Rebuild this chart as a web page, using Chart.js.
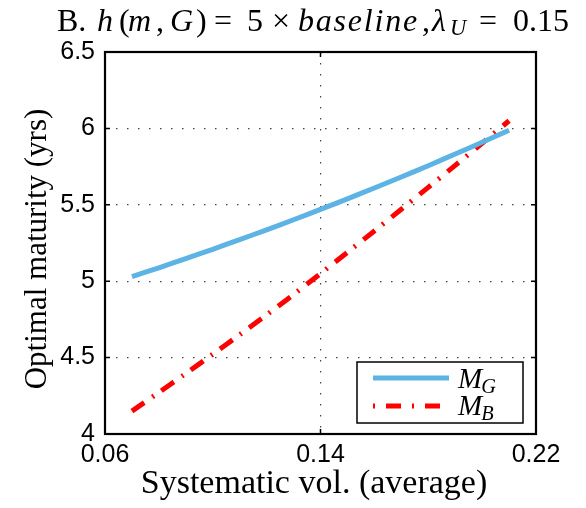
<!DOCTYPE html>
<html>
<head>
<meta charset="utf-8">
<script src="https://cdn.jsdelivr.net/npm/chart.js@4"></script>
<style>
  body { margin: 0; background: #fff; }
  #wrap { width: 586px; height: 508px; }
</style>
</head>
<body>
<div id="wrap"><canvas id="chart" width="586" height="508"></canvas></div>
<script>
const vol = [0.07, 0.08, 0.09, 0.10, 0.11, 0.12, 0.13, 0.14, 0.15, 0.16, 0.17, 0.18, 0.19, 0.20, 0.21];
const maturityG = [5.030, 5.088, 5.148, 5.209, 5.272, 5.336, 5.402, 5.470, 5.539, 5.610, 5.682, 5.756, 5.832, 5.909, 5.988];
const maturityB = [4.150, 4.272, 4.396, 4.522, 4.650, 4.780, 4.913, 5.050, 5.189, 5.329, 5.471, 5.614, 5.758, 5.903, 6.050];
const xTicks = [0.06, 0.14, 0.22];
const yTicks = [4, 4.5, 5, 5.5, 6, 6.5];

const blue = '#5cb3e4';
const red = '#ff0000';
const serif = '"Liberation Serif", "DejaVu Serif", serif';
const sans = '"Liberation Sans", Arial, sans-serif';

// pieces of the heading: text, style (r roman, i italic, s subscript), x position, width to fill
const heading = [
  ['B.', 'r', 57], ['h', 'i', 97], ['(', 'r', 119], ['m', 'i', 128], [',', 'r', 156],
  ['G', 'i', 170], [')', 'r', 196], ['=', 'r', 214], ['5', 'r', 247], ['×', 'r', 272],
  ['baseline', 'i', 298, 121], [',', 'r', 422], ['λ', 'i', 432], ['U', 's', 450],
  ['=', 'r', 479], ['0.15', 'r', 513]
];

function setFont(ctx, style, size) {
  const st = style === 'r' ? '' : 'italic ';
  ctx.font = st + (style === 's' ? size * 0.7 : size) + 'px ' + serif;
}

// symbol with italic subscript, e.g. M_G
function drawSub(ctx, main, sub, x, y, size) {
  setFont(ctx, 'i', size);
  ctx.fillText(main, x, y);
  const w = ctx.measureText(main).width;
  setFont(ctx, 's', size);
  ctx.fillText(sub, x + w - 1, y + size * 0.16);
}

const frame = {
  id: 'frame',
  afterDraw(chart) {
    const ctx = chart.ctx;
    const a = chart.chartArea;
    const xs = chart.scales.x, ys = chart.scales.y;
    ctx.save();
    // inward ticks on all four sides
    ctx.strokeStyle = '#000';
    ctx.lineWidth = 1.5;
    ctx.beginPath();
    for (const v of xTicks) {
      const px = xs.getPixelForValue(v);
      ctx.moveTo(px, a.bottom); ctx.lineTo(px, a.bottom - 5);
      ctx.moveTo(px, a.top); ctx.lineTo(px, a.top + 5);
    }
    for (const v of yTicks) {
      const py = ys.getPixelForValue(v);
      ctx.moveTo(a.left, py); ctx.lineTo(a.left + 5, py);
      ctx.moveTo(a.right, py); ctx.lineTo(a.right - 5, py);
    }
    ctx.stroke();
    // box
    ctx.lineWidth = 2.2;
    ctx.strokeRect(a.left, a.top, a.right - a.left, a.bottom - a.top);

    // legend
    const lx = 357, ly = 362, lw = 166, lh = 61;
    ctx.fillStyle = '#fff';
    ctx.fillRect(lx, ly, lw, lh);
    ctx.lineWidth = 1.5;
    ctx.strokeRect(lx, ly, lw, lh);
    ctx.lineWidth = 5;
    ctx.strokeStyle = blue;
    ctx.beginPath(); ctx.moveTo(373, 378); ctx.lineTo(449, 378); ctx.stroke();
    ctx.strokeStyle = red;
    ctx.setLineDash([2, 11, 15, 11]);
    ctx.beginPath(); ctx.moveTo(373, 406); ctx.lineTo(449, 406); ctx.stroke();
    ctx.setLineDash([]);

    ctx.fillStyle = '#000';
    ctx.textBaseline = 'alphabetic';
    ctx.textAlign = 'left';
    drawSub(ctx, 'M', 'G', 458, 388, 29);
    drawSub(ctx, 'M', 'B', 458, 415, 29);

    // heading
    for (const [t, s, x, fill] of heading) {
      setFont(ctx, s, 32);
      ctx.letterSpacing = '0px';
      if (fill) {
        const w = ctx.measureText(t).width;
        ctx.letterSpacing = ((fill - w) / t.length) + 'px';
      }
      ctx.fillText(t, x, s === 's' ? 35 : 31);
    }
    ctx.letterSpacing = '0px';

    // axis titles
    ctx.textAlign = 'center';
    ctx.font = '34px ' + serif;
    ctx.fillText('Systematic vol. (average)', 314, 493);
    ctx.translate(46, 249);
    ctx.rotate(-Math.PI / 2);
    ctx.font = '31px ' + serif;
    ctx.fillText('Optimal maturity (yrs)', 0, 0);
    ctx.restore();
  }
};

new Chart(document.getElementById('chart'), {
  type: 'line',
  data: {
    labels: vol,
    datasets: [
      { label: 'M_G', data: maturityG, borderColor: blue, borderWidth: 5, pointRadius: 0, tension: 0.3 },
      { label: 'M_B', data: maturityB, borderColor: red, borderWidth: 5, borderDash: [15, 9.5, 2, 9.5], pointRadius: 0, tension: 0.3 }
    ]
  },
  options: {
    responsive: false,
    animation: false,
    layout: { padding: { top: 52, right: 50, left: 0, bottom: 0 } },
    plugins: { legend: { display: false }, tooltip: { enabled: false } },
    scales: {
      x: {
        type: 'linear',
        min: 0.06, max: 0.22,
        afterBuildTicks: s => { s.ticks = xTicks.map(v => ({ value: v })); },
        afterFit: s => { s.height = 74; },
        ticks: { callback: v => v.toFixed(2), font: { family: sans, size: 25 }, color: '#000', padding: 6, maxRotation: 0 },
        grid: { color: '#444', lineWidth: 1.2, drawTicks: false },
        border: { display: false, dash: [1.5, 9.5] }
      },
      y: {
        min: 4, max: 6.5,
        afterBuildTicks: s => { s.ticks = yTicks.map(v => ({ value: v })); },
        afterFit: s => { s.width = 105; },
        ticks: { callback: v => String(v), font: { family: sans, size: 25 }, color: '#000', padding: 10 },
        grid: { color: '#444', lineWidth: 1.2, drawTicks: false },
        border: { display: false, dash: [1.5, 9.5] }
      }
    }
  },
  plugins: [frame]
});
</script>
</body>
</html>
